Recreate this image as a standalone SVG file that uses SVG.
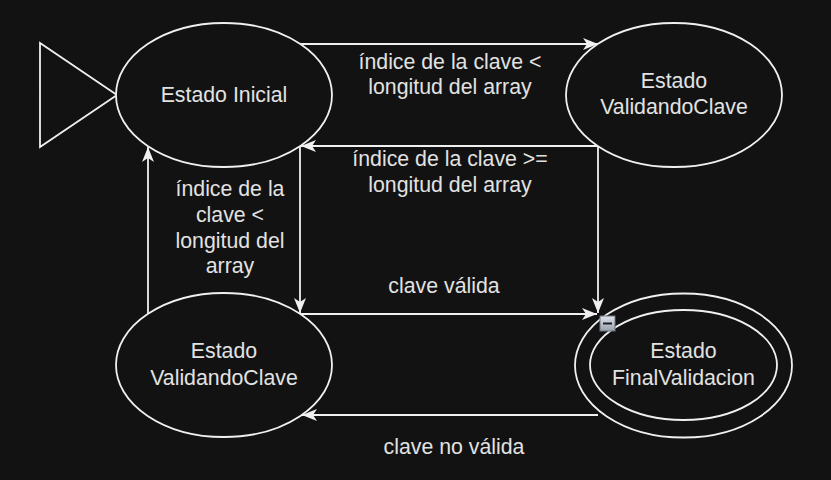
<svg xmlns="http://www.w3.org/2000/svg" width="831" height="480" viewBox="0 0 831 480">
<defs>
<style>
.bg{fill:#121212}
.shape{fill:#121212;stroke:#f0f0f0;stroke-width:1.8}
.edge{fill:none;stroke:#f0f0f0;stroke-width:1.8;marker-end:url(#arr)}
.t{font-family:"Liberation Sans",Arial,Helvetica,sans-serif;font-size:21.3px;fill:#e2e2e2;text-anchor:middle}
</style>
<marker id="arr" viewBox="0 0 15 12" refX="15" refY="6" markerWidth="15" markerHeight="12" markerUnits="userSpaceOnUse" orient="auto">
<path d="M0,0 L15,6 L0,12 L4,6 Z" fill="#f0f0f0"/>
</marker>
<linearGradient id="ig" x1="0" y1="0" x2="0" y2="1">
<stop offset="0" stop-color="#dfe3ea"/>
<stop offset="1" stop-color="#9aa1ad"/>
</linearGradient>
</defs>
<rect class="bg" x="0" y="0" width="831" height="480"/>

<g id="start">
<polygon class="shape" points="40,43 40,147 117,95"/>
</g>

<g id="estado-inicial">
<ellipse class="shape" cx="224" cy="95" rx="108" ry="72"/>
<text class="t" x="224" y="102">Estado Inicial</text>
</g>

<g id="validando-top">
<ellipse class="shape" cx="674" cy="95" rx="108" ry="72"/>
<text class="t" x="674" y="88">Estado</text>
<text class="t" x="674" y="114">ValidandoClave</text>
</g>

<g id="validando-bottom">
<ellipse class="shape" cx="224" cy="365" rx="108" ry="72"/>
<text class="t" x="224" y="358">Estado</text>
<text class="t" x="224" y="385">ValidandoClave</text>
</g>

<g id="final">
<ellipse class="shape" cx="683.5" cy="365.5" rx="108.5" ry="72"/>
<ellipse class="shape" cx="683.5" cy="365" rx="93.5" ry="55"/>
<text class="t" x="683.5" y="358">Estado</text>
<text class="t" x="683.5" y="385">FinalValidacion</text>
</g>

<g id="connectors">
<path class="edge" d="M300,44 L598,44"/>
<path class="edge" d="M598,146 L301,146"/>
<path class="edge" d="M598,146 L598,313"/>
<path class="edge" d="M300,146 L300,313"/>
<path class="edge" d="M300,314 L597,314"/>
<path class="edge" d="M148,313 L148,147"/>
<path class="edge" d="M598,415 L302,415"/>
</g>

<g id="labels">
<text class="t" x="450" y="69">índice de la clave &lt;</text>
<text class="t" x="450" y="94">longitud del array</text>
<text class="t" x="450" y="166">índice de la clave &gt;=</text>
<text class="t" x="450" y="192">longitud del array</text>
<text class="t" x="444" y="293">clave válida</text>
<text class="t" x="454" y="454">clave no válida</text>
<text class="t" x="230" y="196">índice de la</text>
<text class="t" x="230" y="222">clave &lt;</text>
<text class="t" x="230" y="248">longitud del</text>
<text class="t" x="230" y="273">array</text>
</g>

<g id="collapse-icon">
<rect x="600" y="316" width="15" height="15" fill="url(#ig)" stroke="#6d7380" stroke-width="1"/>
<rect x="603" y="322.5" width="9" height="2" fill="#1e1e1e"/>
</g>
</svg>
